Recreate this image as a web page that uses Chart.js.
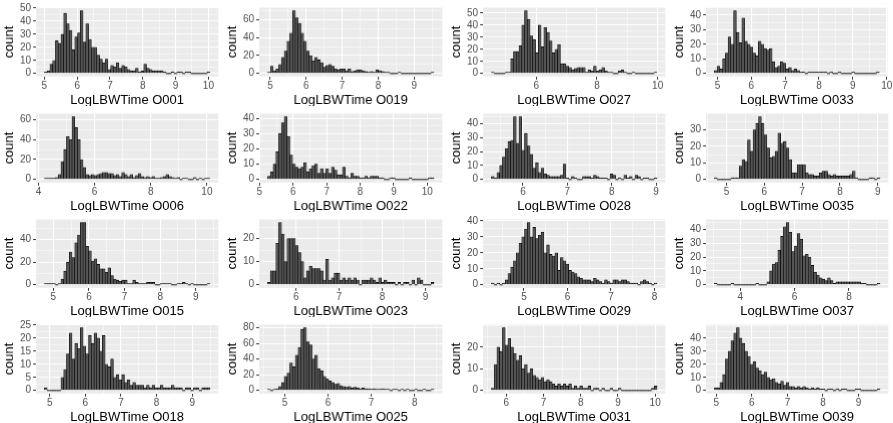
<!DOCTYPE html>
<html>
<head>
<meta charset="utf-8">
<script src="https://cdn.jsdelivr.net/npm/chart.js@4/dist/chart.umd.min.js"></script>
<style>
html, body { margin: 0; padding: 0; background: #fff; }
#grid {
    width: 893px; height: 423px;
    display: grid;
    grid-template-columns: repeat(4, 1fr);
    grid-template-rows: repeat(4, 1fr);
}
.cell { position: relative; min-width: 0; min-height: 0; }
</style>
</head>
<body>
<div id="grid"></div>
<script>
// ---------------------------
// Histogram data (60 bins per panel)
// ---------------------------

var panelNames = ["O001","O019","O027","O033","O006","O022","O028","O035",
                  "O015","O023","O029","O037","O018","O025","O031","O039"];

// first and last bin edge for each panel
var binStart = [5.0, 4.93, 4.52, 4.91, 4.21, 5.24, 5.29, 4.68, 4.75, 5.34, 4.25, 3.05, 4.85, 4.6, 5.6, 4.95];
var binEnd   = [10.05, 9.55, 9.98, 9.78, 10.11, 10.2, 9.02, 9.06, 9.4, 9.2, 8.06, 9.14, 9.5, 8.45, 10.05, 9.6];

var xTicks = [
    [5,6,7,8,9,10], [5,6,7,8,9], [6,8,10], [5,6,7,8,9,10],
    [4,6,8,10], [5,6,7,8,9,10], [6,7,8,9], [5,6,7,8,9],
    [5,6,7,8,9], [6,7,8,9], [5,6,7,8], [4,6,8],
    [5,6,7,8,9], [5,6,7,8], [6,7,8,9,10], [5,6,7,8,9]
];

var yTicks = [
    [0,10,20,30,40,50], [0,20,40,60], [0,10,20,30,40,50], [0,10,20,30,40],
    [0,20,40,60], [0,10,20,30,40], [0,10,20,30,40], [0,10,20,30],
    [0,20,40], [0,10,20], [0,10,20,30,40], [0,10,20,30,40],
    [0,5,10,15,20,25], [0,20,40,60,80], [0,10,20], [0,10,20,30,40]
];

var c_O001 = [1,2,7,10,25,23,30,46,38,33, 18,28,31,48,24,38,26,20,20,14, 11,8,11,3,6,5,8,4,6,5, 3,2,2,4,1,2,7,4,3,2, 2,2,2,1,0,0,1,0,1,1, 0,1,1,0,0,0,0,0,0,1];
var c_O019 = [1,8,3,5,10,18,25,36,45,70, 62,56,45,36,25,20,14,18,15,12, 7,9,10,8,5,4,5,5,3,5, 2,3,4,4,3,2,1,2,1,4, 3,2,1,1,0,0,0,1,0,0, 0,0,0,0,0,0,0,0,0,1];
var c_O027 = [1,0,0,0,0,1,1,12,18,18, 23,40,52,45,31,28,17,40,22,38, 34,27,17,20,24,8,8,6,5,3, 4,5,5,5,1,3,2,6,2,3, 5,2,1,1,0,0,2,3,1,0, 0,1,0,0,0,0,0,0,0,1];
var c_O033 = [2,5,3,10,14,25,20,43,28,21, 38,22,20,18,14,12,22,20,17,16, 17,8,4,5,8,7,3,4,2,3, 2,1,1,0,1,1,1,1,1,1, 1,0,1,0,0,1,0,0,0,0, 1,0,0,0,0,0,0,0,0,1];
var c_O006 = [1,1,1,1,2,5,18,30,43,40, 63,52,40,20,12,5,4,5,4,5, 6,7,7,6,6,4,5,3,7,5, 3,5,2,4,6,3,2,3,2,3, 1,1,2,3,5,3,2,1,2,0, 1,1,0,0,2,0,1,0,1,1];
var c_O022 = [2,5,10,18,30,37,41,28,16,10, 8,7,8,11,5,7,9,10,4,7, 4,7,4,8,6,3,3,8,2,1, 4,2,2,1,1,2,1,2,2,2, 1,1,0,0,1,1,0,0,0,0, 0,1,0,0,0,0,0,0,1,1];
var c_O028 = [2,1,5,10,16,22,27,28,45,26, 45,21,33,24,18,8,12,5,8,4, 3,2,2,2,2,3,11,1,0,2, 1,0,0,2,2,2,1,3,2,1, 1,1,0,4,3,0,1,0,3,1, 2,0,3,2,0,1,1,0,0,1];
var c_O035 = [1,0,0,0,0,0,1,1,1,8, 12,11,24,17,30,34,38,34,27,19, 13,14,17,28,22,23,19,12,4,4, 9,9,9,4,3,3,2,2,4,5, 5,3,2,3,2,2,2,2,2,3, 5,1,0,0,0,0,1,1,0,1];
var c_O015 = [1,1,1,1,0,1,5,12,20,29, 24,37,44,55,55,34,30,21,23,18, 14,14,11,15,8,5,4,3,4,4, 1,1,4,2,1,1,1,2,2,2, 0,0,1,1,1,1,0,0,1,1, 2,1,0,1,0,0,0,0,0,1];
var c_O023 = [1,6,6,18,27,22,10,20,20,20, 17,14,10,3,6,8,7,7,7,6, 2,11,2,3,5,5,2,3,2,3, 2,3,2,0,2,2,2,3,2,1, 3,1,2,1,1,1,0,1,0,1, 1,0,2,0,3,2,0,0,0,1];
var c_O029 = [1,0,1,0,1,3,7,11,15,20, 26,30,35,39,30,36,29,31,33,20, 25,19,18,20,9,17,15,13,9,8, 7,5,4,3,3,3,2,4,3,2, 1,3,2,1,3,3,2,3,3,2, 1,1,1,0,2,3,2,1,0,1];
var c_O037 = [1,0,0,0,0,0,1,0,0,0, 0,0,0,0,0,1,0,0,0,2, 10,15,16,25,35,42,45,38,24,28, 37,33,21,22,20,14,9,7,5,4, 3,5,3,1,2,2,2,2,2,2, 2,2,2,1,1,0,0,0,0,1];
var c_O018 = [1,0,0,0,0,0,5,8,14,22, 12,18,16,24,17,14,21,18,22,20, 15,21,10,9,12,5,6,4,6,3, 4,2,3,2,2,2,1,2,1,2, 1,1,2,1,1,1,2,1,1,1, 0,1,1,0,1,1,0,1,1,1];
var c_O025 = [1,0,1,2,5,10,18,22,35,30, 45,55,78,80,62,58,40,45,28,25, 18,15,12,10,8,9,6,5,4,5, 3,4,3,2,3,2,2,1,2,1, 1,2,1,1,0,1,1,0,1,0, 1,0,0,1,0,0,1,0,0,1];
var c_O031 = [1,12,20,18,29,21,24,20,17,14, 16,10,12,8,10,7,6,5,6,4, 5,4,3,2,3,2,3,2,3,1, 2,1,2,1,1,2,0,1,1,0, 1,0,0,1,0,0,1,0,0,0, 0,0,0,0,0,0,0,0,1,2];
var c_O039 = [2,2,6,12,24,30,38,44,48,40, 36,30,26,20,22,17,15,12,14,10, 8,9,6,5,7,4,6,3,3,2, 3,2,3,2,1,2,1,2,1,1, 0,1,1,0,1,0,1,1,0,0, 0,1,1,0,0,0,0,0,0,1];

var allCounts = [c_O001, c_O019, c_O027, c_O033, c_O006, c_O022, c_O028, c_O035,
                 c_O015, c_O023, c_O029, c_O037, c_O018, c_O025, c_O031, c_O039];

var FONT = "'Liberation Sans', Arial, Helvetica, sans-serif";

// grey panel behind the grid lines
var panelBg = {
    id: "panelBg",
    beforeDraw: function(chart){
        var a = chart.chartArea;
        var ctx = chart.ctx;
        ctx.save();
        ctx.fillStyle = "#ebebeb";
        ctx.fillRect(a.left, a.top, a.right - a.left, a.bottom - a.top);
        ctx.restore();
    }
};

// major ticks from the array, minor ones half way between
function buildTicks(majors, min, max){
    var half = (majors[1] - majors[0]) / 2;
    var out = [];
    for (var k = Math.ceil(min / half); k * half <= max; k++) {
        var v = Math.round(k * half * 1000) / 1000;
        if (v < min) continue;
        out.push({ value: v, minor: majors.indexOf(v) < 0 });
    }
    return out;
}

function gridWidth(c){ return (c.tick && c.tick.minor) ? 0.5 : 1.1; }
function tickCol(c){ return (c.tick && c.tick.minor) ? "rgba(0,0,0,0)" : "#333333"; }

var grid = document.getElementById("grid");

for (var i = 0; i < panelNames.length; i++) {
    (function(i){
        var cell = document.createElement("div");
        cell.className = "cell";
        var cv = document.createElement("canvas");
        cell.appendChild(cv);
        grid.appendChild(cell);

        var counts = allCounts[i];
        var lo = binStart[i], hi = binEnd[i];
        var w = (hi - lo) / counts.length;
        var pts = [];
        for (var b = 0; b < counts.length; b++) {
            pts.push({ x: lo + (b + 0.5) * w, y: counts[b] });
        }

        var xmin = lo - 0.05 * (hi - lo), xmax = hi + 0.05 * (hi - lo);
        var ymax = Math.max.apply(null, counts);
        var ylo = -0.05 * ymax, yhi = 1.05 * ymax;
        var xt = xTicks[i], yt = yTicks[i];

        new Chart(cv, {
            type: "bar",
            data: {
                datasets: [{
                    data: pts,
                    backgroundColor: "#555555",
                    borderColor: "#000000",
                    borderWidth: 0.6,
                    barPercentage: 1,
                    categoryPercentage: 1,
                    minBarLength: 1
                }]
            },
            options: {
                responsive: true,
                maintainAspectRatio: false,
                animation: false,
                layout: { padding: { top: 5, right: 5, left: 3, bottom: 0 } },
                plugins: { legend: { display: false }, tooltip: { enabled: false } },
                scales: {
                    x: {
                        type: "linear",
                        offset: false,
                        bounds: "data",
                        min: xmin,
                        max: xmax,
                        afterBuildTicks: function(s){ s.ticks = buildTicks(xt, xmin, xmax); },
                        ticks: {
                            autoSkip: false, maxRotation: 0, padding: 1,
                            color: "#4d4d4d",
                            font: { family: FONT, size: 10, lineHeight: 1.1 },
                            callback: function(v){ return xt.indexOf(v) >= 0 ? String(v) : ""; }
                        },
                        grid: { offset: false, color: "#ffffff", lineWidth: gridWidth,
                                tickLength: 3, tickColor: tickCol, tickWidth: 1 },
                        border: { display: false },
                        title: { display: true, text: "LogLBWTime " + panelNames[i], color: "#000",
                                 font: { family: FONT, size: 13, lineHeight: 1 },
                                 padding: { top: 1, bottom: 0 } }
                    },
                    y: {
                        bounds: "data",
                        min: ylo,
                        max: yhi,
                        afterBuildTicks: function(s){ s.ticks = buildTicks(yt, ylo, yhi); },
                        ticks: {
                            autoSkip: false, padding: 2,
                            color: "#4d4d4d",
                            font: { family: FONT, size: 10, lineHeight: 1.1 },
                            callback: function(v){ return yt.indexOf(v) >= 0 ? String(v) : ""; }
                        },
                        grid: { color: "#ffffff", lineWidth: gridWidth,
                                tickLength: 3, tickColor: tickCol, tickWidth: 1 },
                        border: { display: false },
                        title: { display: true, text: "count", color: "#000",
                                 font: { family: FONT, size: 13, lineHeight: 1 },
                                 padding: { top: 0, bottom: 2 } }
                    }
                }
            },
            plugins: [panelBg]
        });
    })(i);
}
</script>
</body>
</html>
